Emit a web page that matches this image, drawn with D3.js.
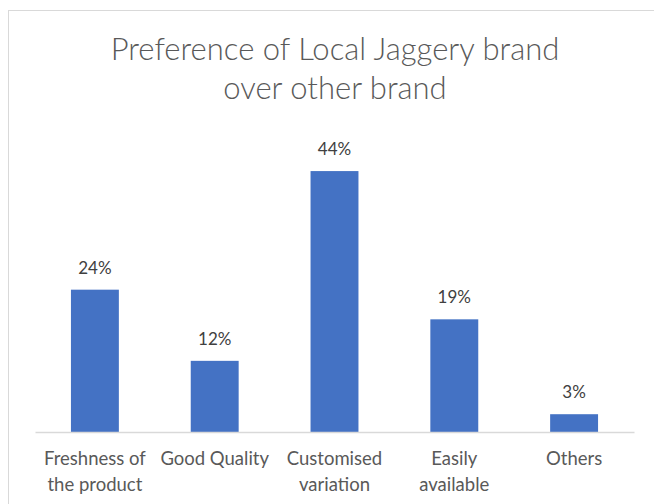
<!DOCTYPE html>
<html>
<head>
<meta charset="utf-8">
<script src="https://cdn.jsdelivr.net/npm/d3@7"></script>
<style>
  body { margin: 0; background: #fff; }
  svg { display: block; font-family: Lato, "Open Sans", sans-serif; }
</style>
</head>
<body>
<svg id="chart"></svg>
<script>
// Chart data
const categories = ["Freshness of the product", "Good Quality", "Customised variation", "Easily available", "Others"]
const categoryLines = [["Freshness of", "the product"], ["Good Quality"], ["Customised", "variation"], ["Easily", "available"], ["Others"]]
const values = [24, 12, 44, 19, 3]
const titleLines = ["Preference of Local Jaggery brand", "over other brand"]

const width = 654
const height = 504
const margins = { top: 135, right: 20, bottom: 72, left: 35 }

let svg = d3.select("#chart")
    .attr("width", width)
    .attr("height", height)

// Chart frame
svg.append("rect")
    .attr("x", 8.5)
    .attr("y", 10.5)
    .attr("width", width + 20)
    .attr("height", height + 20)
    .attr("fill", "#fff")
    .attr("stroke", "#d9d9d9")

// Title
svg.append("g")
    .selectAll("text")
    .data(titleLines)
    .join("text")
    .attr("x", 335)
    .attr("y", (d, i) => 60 + i * 39)
    .attr("text-anchor", "middle")
    .attr("fill", "#595959")
    .attr("font-size", 31)
    .attr("font-weight", 300)
    .text(d => d)

let x = d3.scaleBand()
    .domain(categories)
    .range([margins.left, 634])
    .paddingInner(0.6)
    .paddingOuter(0.3)

let y = d3.scaleLinear()
    .domain([0, 50])
    .range([432, 135.5])

// Bars
svg.append("g")
    .selectAll("rect")
    .data(values)
    .join("rect")
    .attr("x", (d, i) => x(categories[i]))
    .attr("y", d => y(d))
    .attr("width", x.bandwidth())
    .attr("height", d => y(0) - y(d))
    .attr("fill", "#4472c4")

// Value labels
svg.append("g")
    .selectAll("text")
    .data(values)
    .join("text")
    .attr("x", (d, i) => x(categories[i]) + x.bandwidth() / 2)
    .attr("y", d => y(d) - 16)
    .attr("text-anchor", "middle")
    .attr("fill", "#404040")
    .attr("font-size", 17)
    .text(d => d + "%")

// X axis
let xAxis = svg.append("g")
    .attr("transform", "translate(0,432)")
    .call(d3.axisBottom(x).tickSize(0).tickFormat(""))
xAxis.select(".domain").attr("stroke", "#d9d9d9").attr("stroke-width", 1.5)

// Category labels
let labels = svg.append("g")
    .selectAll("text")
    .data(categories)
    .join("text")
    .attr("x", d => x(d) + x.bandwidth() / 2)
    .attr("y", 465)
    .attr("text-anchor", "middle")
    .attr("fill", "#595959")
    .attr("font-size", 18.5)

labels.selectAll("tspan")
    .data((d, i) => categoryLines[i])
    .join("tspan")
    .attr("x", function() { return d3.select(this.parentNode).attr("x") })
    .attr("dy", (d, i) => i === 0 ? 0 : 26)
    .text(d => d)
</script>
</body>
</html>
